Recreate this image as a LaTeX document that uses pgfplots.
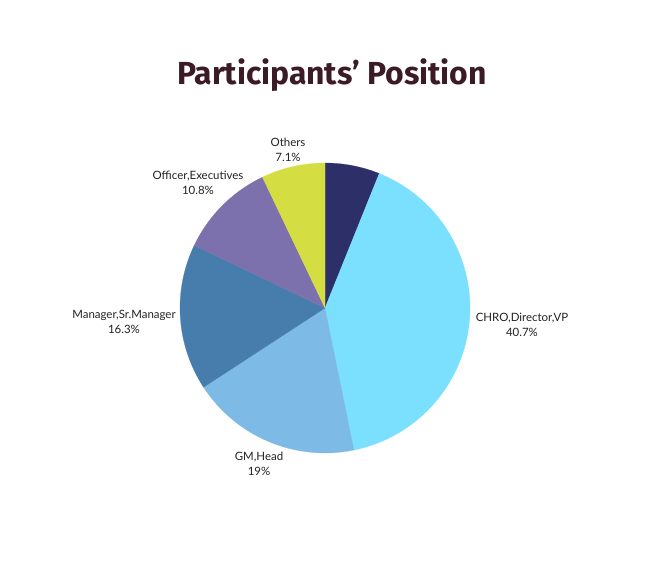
\documentclass[border=0pt]{standalone}
\usepackage{pgfplots}
\pgfplotsset{compat=1.18}
\usepackage{fontspec}
\setmainfont{Lato}
\newfontfamily\titlefont{Fira Sans}
\definecolor{cNavy}{HTML}{2D3068}
\definecolor{cCyan}{HTML}{7AE0FD}
\definecolor{cGM}{HTML}{7EBAE6}
\definecolor{cMgr}{HTML}{477DAC}
\definecolor{cOff}{HTML}{7C71AC}
\definecolor{cOth}{HTML}{D4DD42}
\definecolor{cTitle}{HTML}{3B1B25}
\definecolor{cLab}{HTML}{222222}
\begin{document}
\begin{tikzpicture}
\useasboundingbox (0bp,0bp) rectangle (649bp,562bp);
\begin{axis}[at={(325bp,254bp)}, anchor=center, width=290bp, height=290bp,
  scale only axis, xmin=-1, xmax=1, ymin=-1, ymax=1, axis lines=none, clip=false]
\gdef\cum{0}
\foreach \v/\c in {6.1/cNavy,40.7/cCyan,19/cGM,16.3/cMgr,10.8/cOff,7.1/cOth}{
  \pgfmathsetmacro\a{90-3.6*\cum}
  \pgfmathsetmacro\b{90-3.6*(\cum+\v)}
  \pgfmathsetmacro\px{cos(\a)}
  \pgfmathsetmacro\py{sin(\a)}
  \edef\tmp{\noexpand\filldraw[fill=\c,draw=\c,line width=0.2pt] (axis cs:0,0) -- (axis cs:\px,\py) arc[start angle=\a,end angle=\b,radius=145bp] -- cycle;}
  \tmp
  \pgfmathsetmacro\n{\cum+\v}
  \xdef\cum{\n}
}
\end{axis}
\node[text=cTitle, font=\titlefont\bfseries\fontsize{32}{38}\selectfont] at (332bp,487bp) {Participants’ Position};
\begin{scope}[every node/.style={align=center, text=cLab, font=\fontsize{11.5}{14.5}\selectfont}]
\node at (288bp,412bp) {Others\\7.1\%};
\node at (198bp,379bp) {Officer,Executives\\10.8\%};
\node at (124bp,240bp) {Manager,Sr.Manager\\16.3\%};
\node at (259bp,98bp) {GM,Head\\19\%};
\node at (522bp,237bp) {CHRO,Director,VP\\40.7\%};
\end{scope}
\end{tikzpicture}
\end{document}
